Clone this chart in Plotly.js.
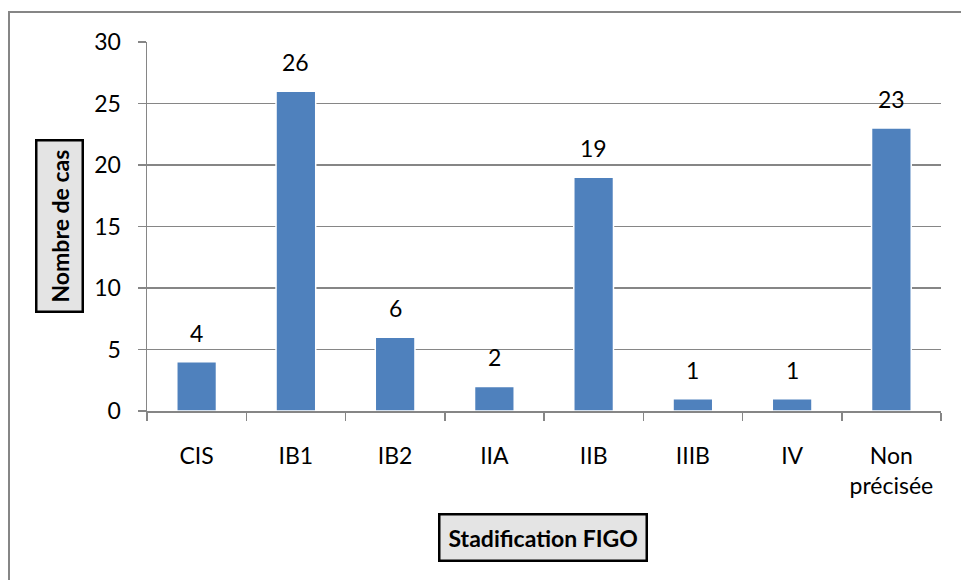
<!DOCTYPE html>
<html><head><meta charset="utf-8">
<script src="https://cdn.plot.ly/plotly-3.0.1.min.js"></script>
<style>html,body{margin:0;padding:0;background:#fff;}#chart{width:961px;height:580px;}</style>
</head><body><div id="chart"></div>
<script>
const categories = ["CIS", "IB1", "IB2", "IIA", "IIB", "IIIB", "IV", "Non<br>précisée"];
const values = [4, 26, 6, 2, 19, 1, 1, 23];
const yTicks = [0, 5, 10, 15, 20, 25, 30];
const xTitle = "Stadification FIGO";
const yTitle = "Nombre de cas";

const FONT = "Lato, 'Open Sans', sans-serif";
const FS = 23;
const L = 147, R = 20, T = 42, B = 169, W = 961, H = 580;
const pw = W - L - R, ph = H - T - B;
const px = x => (x - L) / pw;
const py = y => (H - B - y) / ph;

const trace = {
  type: "bar",
  x: categories,
  y: values,
  marker: {color: "#4F81BD", line: {color: "#ffffff", width: 1.5}},
  width: 0.4,
  hoverinfo: "none",
  cliponaxis: false
};

const labelAnn = categories.map((c, i) => ({
  x: c, y: values[i], xref: "x", yref: "y",
  text: String(values[i]), showarrow: false,
  yanchor: "bottom", yshift: 13,
  font: {family: FONT, size: FS, color: "#000"}
}));

const layout = {
  width: W, height: H,
  margin: {l: L, r: R, t: T, b: B, pad: 0},
  paper_bgcolor: "#fff", plot_bgcolor: "#fff",
  showlegend: false,
  font: {family: FONT, size: FS, color: "#000"},
  xaxis: {
    type: "category",
    tickson: "boundaries",
    ticks: "outside", ticklen: 8, tickcolor: "#868686", tickwidth: 1.5,
    showline: true, linecolor: "#868686", linewidth: 1.5,
    showgrid: false,
    ticklabelstandoff: 24,
    tickfont: {family: FONT, size: FS, color: "#000"},
    fixedrange: true
  },
  yaxis: {
    range: [0, 30],
    tickvals: yTicks,
    ticktext: yTicks.map(String),
    ticks: "outside", ticklen: 8, tickcolor: "#868686", tickwidth: 1.5,
    showline: true, linecolor: "#868686", linewidth: 1.5,
    showgrid: true, gridcolor: "#868686", gridwidth: 1.5,
    zeroline: false,
    ticklabelstandoff: 12,
    tickfont: {family: FONT, size: FS, color: "#000"},
    fixedrange: true
  },
  shapes: [
    {type: "rect", xref: "paper", yref: "paper",
     x0: px(9), x1: px(990), y0: py(12), y1: py(600),
     line: {color: "#868686", width: 2}, fillcolor: "rgba(0,0,0,0)", layer: "below"}
  ],
  annotations: labelAnn.concat([
    {xref: "paper", yref: "paper", x: px(543), y: py(537),
     text: "<b>" + xTitle + "</b>", showarrow: false,
     xanchor: "center", yanchor: "middle",
     font: {family: FONT, size: 23, color: "#000"},
     bgcolor: "#e4e4e4", bordercolor: "#000", borderwidth: 2.5, borderpad: 8},
    {xref: "paper", yref: "paper", x: px(59), y: py(226),
     text: "<b>" + yTitle + "</b>", showarrow: false, textangle: -90,
     xanchor: "center", yanchor: "middle",
     font: {family: FONT, size: 23, color: "#000"},
     bgcolor: "#e4e4e4", bordercolor: "#000", borderwidth: 2.5, borderpad: 8}
  ])
};

Plotly.newPlot("chart", [trace], layout, {displayModeBar: false, staticPlot: true});
</script></body></html>
